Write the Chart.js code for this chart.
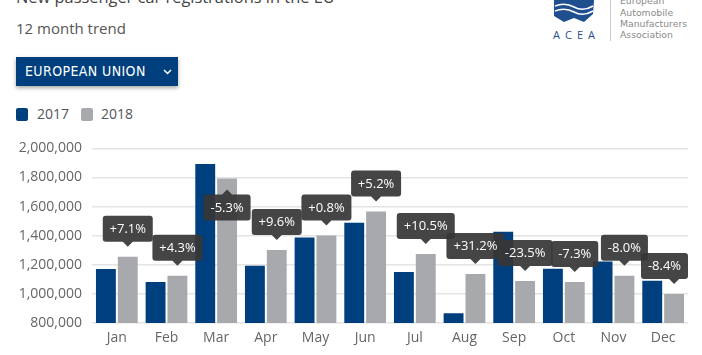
<!DOCTYPE html>
<html>
<head>
<meta charset="utf-8">
<script src="https://cdn.jsdelivr.net/npm/chart.js@4.4.1/dist/chart.umd.min.js"></script>
<style>
  html,body{margin:0;padding:0;background:#fff;width:702px;height:355px;overflow:hidden;font-family:"Open Sans",sans-serif;}
  .abs{position:absolute;}
  #title{left:16px;top:-14px;font-size:16.4px;line-height:22px;color:#444;white-space:nowrap;}
  #sub{left:16px;top:18px;font-size:15px;line-height:20px;color:#555;white-space:nowrap;}
  #btn{left:16px;top:57px;width:162px;height:29px;background:#003f7d;box-shadow:0 2px 4px rgba(0,0,0,0.35);color:#fff;
       font-family:"DejaVu Sans Condensed","DejaVu Sans",sans-serif;font-size:14px;line-height:29px;}
  #btn span{position:absolute;left:9px;top:0;letter-spacing:0.4px;}
  #btn svg{position:absolute;left:147px;top:12px;}
  .lg{top:108px;width:12px;height:13px;border-radius:2px;}
  .lt{top:104px;font-size:14px;line-height:20px;color:#555;}
  #logo-t{left:553px;top:28px;font-size:11px;letter-spacing:5px;color:#1f4f8f;line-height:14px;}
  .lr{left:620px;font-family:"DejaVu Sans",sans-serif;font-size:9.3px;line-height:12px;color:#8a8a8a;white-space:nowrap;}
  #vline{left:610px;top:0;width:1px;height:41px;background:#ccc;}
  #wrap{left:0;top:130px;width:702px;height:225px;}
</style>
</head>
<body>
<div id="title" class="abs">New passenger car registrations in the EU</div>
<div id="sub" class="abs">12 month trend</div>
<div id="btn" class="abs"><span>EUROPEAN UNION</span>
  <svg width="9" height="6" viewBox="0 0 9 6"><path d="M1 1 L4.5 4.5 L8 1" stroke="#fff" stroke-width="1.5" fill="none"/></svg>
</div>
<div class="abs lg" style="left:16px;background:#003f7d"></div>
<div class="abs lt" style="left:37px">2017</div>
<div class="abs lg" style="left:81px;background:#a7a9ac"></div>
<div class="abs lt" style="left:101px">2018</div>

<svg class="abs" style="left:550px;top:0" width="48" height="24" viewBox="0 0 48 24">
  <path d="M4 0 L44 0 L43 14 L34 22 L24 18 L14 22 L4 16 Z" fill="#1f4f8f"/>
  <path d="M5 6 Q15 2 24 7 Q33 12 43 6" stroke="#fff" stroke-width="1.6" fill="none"/>
  <path d="M5 11 Q15 7 24 12 Q33 17 43 11" stroke="#fff" stroke-width="1.6" fill="none"/>
</svg>
<div id="logo-t" class="abs">ACEA</div>
<div id="vline" class="abs"></div>
<div class="abs lr" style="top:-5px">European</div>
<div class="abs lr" style="top:7px">Automobile</div>
<div class="abs lr" style="top:18px">Manufacturers</div>
<div class="abs lr" style="top:29px">Association</div>

<div id="wrap" class="abs"><canvas id="c" width="702" height="225"></canvas></div>

<script>
const months = ["Jan","Feb","Mar","Apr","May","Jun","Jul","Aug","Sep","Oct","Nov","Dec"];
const reg2017 = [1171000,1081000,1892000,1194000,1387000,1489000,1150000,867000,1427000,1173000,1222000,1090000];
const reg2018 = [1256000,1125000,1793000,1302000,1401000,1567000,1275000,1136000,1088000,1081000,1125000,1000000];
const changeLabels = ["+7.1%","+4.3%","-5.3%","+9.6%","+0.8%","+5.2%","+10.5%","+31.2%","-23.5%","-7.3%","-8.0%","-8.4%"];
const yTicks = [800000,1000000,1200000,1400000,1600000,1800000,2000000];

const labelPlugin = {
  id: 'changeLabels',
  afterDatasetsDraw(chart) {
    const ctx = chart.ctx, area = chart.chartArea;
    const meta = chart.getDatasetMeta(1);
    ctx.save();
    ctx.font = '13px "Open Sans", sans-serif';
    ctx.textAlign = 'center';
    ctx.textBaseline = 'middle';
    meta.data.forEach((bar, i) => {
      const txt = changeLabels[i];
      const w = Math.round(ctx.measureText(txt).width + 14), h = 26, caret = 5, gap = 10, r = 3;
      const cx = bar.x, top = bar.y;
      let by = top - gap - caret - h, below = false;
      if (by < area.top) { below = true; by = top + gap + caret + 1; }
      let bx = cx - w / 2;
      if (bx + w > area.right) bx = area.right - w;
      if (bx < area.left) bx = area.left;
      ctx.fillStyle = 'rgba(55,55,55,0.93)';
      ctx.beginPath();
      ctx.moveTo(bx + r, by);
      if (below) { ctx.lineTo(cx - caret, by); ctx.lineTo(cx, by - caret); ctx.lineTo(cx + caret, by); }
      ctx.lineTo(bx + w - r, by);
      ctx.quadraticCurveTo(bx + w, by, bx + w, by + r);
      ctx.lineTo(bx + w, by + h - r);
      ctx.quadraticCurveTo(bx + w, by + h, bx + w - r, by + h);
      if (!below) { ctx.lineTo(cx + caret, by + h); ctx.lineTo(cx, by + h + caret); ctx.lineTo(cx - caret, by + h); }
      ctx.lineTo(bx + r, by + h);
      ctx.quadraticCurveTo(bx, by + h, bx, by + h - r);
      ctx.lineTo(bx, by + r);
      ctx.quadraticCurveTo(bx, by, bx + r, by);
      ctx.closePath();
      ctx.fill();
      ctx.fillStyle = '#fff';
      ctx.fillText(txt, bx + w / 2, by + h / 2 + 0.5);
    });
    ctx.restore();
  }
};

new Chart(document.getElementById('c'), {
  type: 'bar',
  data: {
    labels: months,
    datasets: [
      { label: '2017', data: reg2017, backgroundColor: '#003f7d', categoryPercentage: 0.88, barPercentage: 0.91 },
      { label: '2018', data: reg2018, backgroundColor: '#a7a9ac', categoryPercentage: 0.88, barPercentage: 0.91 }
    ]
  },
  options: {
    responsive: false,
    animation: false,
    layout: { padding: { left: 0, right: 14, top: 18, bottom: 0 } },
    plugins: { legend: { display: false }, tooltip: { enabled: false } },
    scales: {
      x: {
        grid: { display: false, drawTicks: false },
        border: { display: false },
        ticks: { color: '#666', font: { family: '"Open Sans", sans-serif', size: 14 }, padding: 7 },
        afterFit(s) { s.height = 32; }
      },
      y: {
        min: 800000, max: 2000000,
        afterBuildTicks(s) { s.ticks = yTicks.map(v => ({ value: v })); },
        grid: { color: '#e4e4e4', lineWidth: 1.5, drawTicks: false },
        border: { display: false },
        ticks: {
          color: '#666', font: { family: '"Open Sans", sans-serif', size: 14 }, padding: 10,
          callback: v => v.toLocaleString('en-US')
        },
        afterFit(s) { s.width = 92; }
      }
    }
  },
  plugins: [labelPlugin]
});
</script>
</body>
</html>
